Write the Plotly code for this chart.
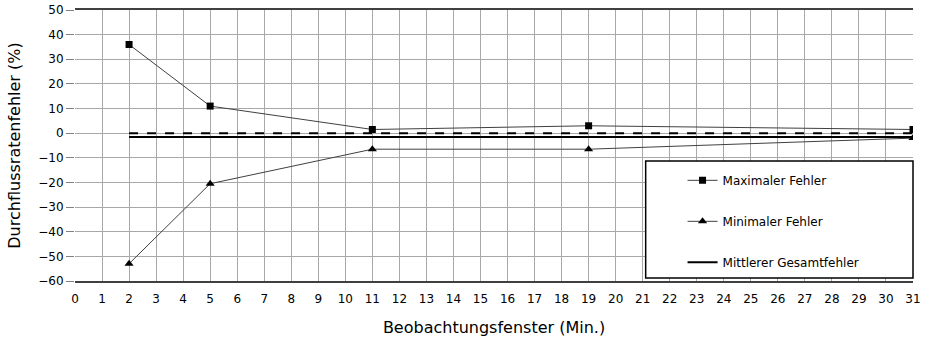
import plotly.graph_objects as go

fenster = [2, 5, 11, 19, 31]
max_fehler = [36, 11, 1.5, 3, 1.5]
min_fehler = [-53, -20.5, -6.5, -6.5, -2]
mittel_x = [2, 31]
mittel_fehler = [-1.6, -1.6]
null_x = [2, 31]
null_y = [0, 0]

FONT = "DejaVu Sans"
fig = go.Figure()
fig.add_trace(go.Scatter(x=null_x, y=null_y, mode="lines", showlegend=False,
                         line=dict(color="black", width=2, dash="dash")))
fig.add_trace(go.Scatter(x=fenster, y=max_fehler, mode="lines+markers", name="Maximaler Fehler",
                         legendgroup="a",
                         line=dict(color="#404040", width=1),
                         marker=dict(symbol="square", size=7, color="black")))
fig.add_trace(go.Scatter(x=fenster, y=min_fehler, mode="lines+markers", name="Minimaler Fehler",
                         legendgroup="b",
                         line=dict(color="#404040", width=1),
                         marker=dict(symbol="triangle-up", size=8, color="black")))
fig.add_trace(go.Scatter(x=mittel_x, y=mittel_fehler, mode="lines", name="Mittlerer Gesamtfehler",
                         legendgroup="c",
                         line=dict(color="black", width=2)))

fig.add_shape(type="rect", xref="paper", yref="paper", x0=0.681, x1=1.0, y0=0.011, y1=0.443,
              line=dict(color="black", width=1.5), fillcolor="white", layer="above")

fig.update_layout(
    width=928, height=342,
    margin=dict(l=75, r=15, t=10, b=61, autoexpand=False),
    paper_bgcolor="white", plot_bgcolor="white",
    font=dict(family=FONT, size=12, color="black"),
    legend=dict(x=0.725, y=0.425, xanchor="left", yanchor="top", bgcolor="rgba(0,0,0,0)",
                borderwidth=0, tracegroupgap=22, font=dict(size=12, family=FONT)),
    xaxis=dict(range=[0, 31], dtick=1, tick0=0, showgrid=True, gridcolor="#a8a8a8", gridwidth=1,
               showline=True, linecolor="#404040", linewidth=1.5, mirror=True,
               ticks="outside", ticklen=6, tickcolor="rgba(0,0,0,0)",
               zeroline=False, tickfont=dict(size=12), automargin=False,
               title=dict(text="Beobachtungsfenster (Min.)", font=dict(size=16), standoff=17)),
    yaxis=dict(range=[-60, 50], dtick=10, tick0=0, showgrid=True, gridcolor="#a8a8a8", gridwidth=1,
               showline=False, ticks="outside", ticklen=8, tickcolor="#808080",
               zeroline=False, tickfont=dict(size=12), automargin=False,
               title=dict(text="Durchflussratenfehler (%)", font=dict(size=16), standoff=13)),
)
fig.write_html("out.html", config={"displayModeBar": False},
               post_script="document.body.style.margin='0';")
